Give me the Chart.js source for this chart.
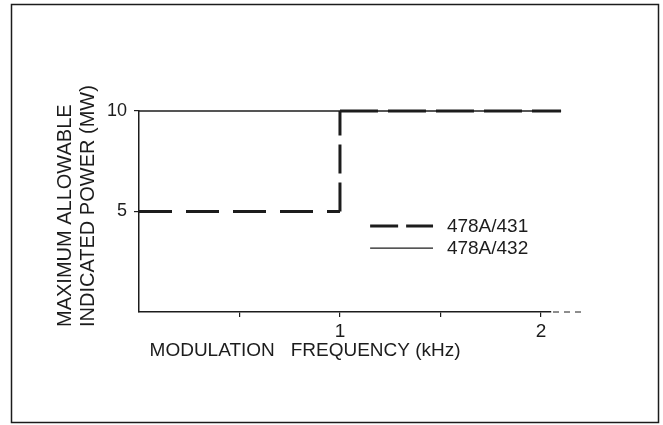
<!DOCTYPE html>
<html>
<head>
<meta charset="utf-8">
<script src="https://cdn.jsdelivr.net/npm/chart.js@4.4.1/dist/chart.umd.min.js"></script>
<style>
html,body{margin:0;padding:0;background:#fff;}
#wrap{width:663px;height:425px;}
</style>
</head>
<body>
<div id="wrap"><canvas id="c" width="663" height="425"></canvas></div>
<script>
// ---- data ----
const seriesNames = ['478A/431', '478A/432'];
const freq431 = [0, 1, 1, 2.1];
const power431 = [5, 5, 10, 10];
const freq432 = [0, 2.1];
const power432 = [10, 10];
const xTickValues = [0.5, 1, 1.5, 2];
const xTickLabels = ['', '1', '', '2'];
const yTickValues = [5, 10];
const yTickLabels = ['5', '10'];
const xTitle = 'MODULATION   FREQUENCY (kHz)';
const yTitleLines = ['MAXIMUM ALLOWABLE', 'INDICATED POWER (MW)'];

const INK = '#1c1c1c';
const FONT = '"Liberation Sans", Arial, sans-serif';

const toPoints = (xs, ys) => xs.map((v, i) => ({x: v, y: ys[i]}));

const dashBySegment = [[33, 14], [29, 9], [38, 10]];

const decor = {
  id: 'decor',
  beforeDraw(chart) {
    const ctx = chart.ctx;
    ctx.save();
    ctx.fillStyle = '#fff';
    ctx.fillRect(0, 0, chart.width, chart.height);
    ctx.strokeStyle = INK;
    ctx.lineWidth = 1.5;
    ctx.strokeRect(11.5, 4.5, 647, 418);
    ctx.restore();
  },
  afterDraw(chart) {
    const {ctx} = chart;
    const x = chart.scales.x, y = chart.scales.y;
    ctx.save();
    // dashed continuation of the x axis
    ctx.strokeStyle = INK;
    ctx.lineWidth = 1;
    ctx.setLineDash([6, 5]);
    ctx.beginPath();
    ctx.moveTo(x.right + 2, y.bottom);
    ctx.lineTo(x.getPixelForValue(2.22), y.bottom);
    ctx.stroke();
    ctx.setLineDash([]);

    // y axis title (two lines, rotated, start-aligned)
    ctx.fillStyle = INK;
    ctx.font = '20px ' + FONT;
    ctx.textAlign = 'left';
    ctx.textBaseline = 'middle';
    ctx.save();
    ctx.translate(65, y.bottom + 15);
    ctx.rotate(-Math.PI / 2);
    yTitleLines.forEach((t, i) => ctx.fillText(t, 0, i * 23));
    ctx.restore();

    // legend
    const lx0 = x.getPixelForValue(1.15), lx1 = x.getPixelForValue(1.463);
    const tx = x.getPixelForValue(1.532);
    const rows = [y.getPixelForValue(4.28), y.getPixelForValue(3.18)];
    ctx.strokeStyle = INK;
    ctx.lineCap = 'butt';
    // dashed sample
    ctx.lineWidth = 3;
    ctx.setLineDash([28, 8]);
    ctx.beginPath(); ctx.moveTo(lx0, rows[0]); ctx.lineTo(lx1, rows[0]); ctx.stroke();
    // solid sample
    ctx.lineWidth = 1.3;
    ctx.setLineDash([]);
    ctx.beginPath(); ctx.moveTo(lx0, rows[1]); ctx.lineTo(lx1, rows[1]); ctx.stroke();
    ctx.font = '19px ' + FONT;
    ctx.textAlign = 'left';
    ctx.textBaseline = 'middle';
    seriesNames.forEach((n, i) => ctx.fillText(n, tx, rows[i] + 1));
    ctx.restore();
  }
};

new Chart(document.getElementById('c'), {
  type: 'line',
  data: {
    datasets: [
      {
        label: seriesNames[0],
        data: toPoints(freq431, power431),
        borderColor: INK,
        borderWidth: 3,
        borderCapStyle: 'butt',
        pointRadius: 0,
        tension: 0,
        fill: false,
        clip: false,
        segment: {
          borderDash: ctx => dashBySegment[ctx.p0DataIndex] || [33, 14]
        }
      },
      {
        label: seriesNames[1],
        data: toPoints(freq432, power432),
        borderColor: INK,
        borderWidth: 1.3,
        pointRadius: 0,
        tension: 0,
        fill: false,
        clip: false
      }
    ]
  },
  options: {
    responsive: false,
    animation: false,
    devicePixelRatio: 1,
    layout: {padding: {left: 0, top: 111, right: 112, bottom: 53}},
    plugins: {legend: {display: false}, tooltip: {enabled: false}},
    scales: {
      x: {
        type: 'linear',
        min: 0,
        max: 2.05,
        afterBuildTicks: s => { s.ticks = xTickValues.map(v => ({value: v})); },
        afterFit: s => { s.height = 60; },
        ticks: {
          autoSkip: false,
          maxRotation: 0,
          padding: 3,
          color: INK,
          font: {family: FONT, size: 19},
          callback: v => { const i = xTickValues.indexOf(v); return i >= 0 ? xTickLabels[i] : ''; }
        },
        grid: {drawOnChartArea: false, drawTicks: true, tickLength: 5, color: INK, lineWidth: 1.2},
        border: {display: true, color: INK, width: 1.5},
        title: {
          display: true,
          text: '  ' + xTitle,
          align: 'start',
          color: INK,
          font: {family: FONT, size: 19},
          padding: {top: 0, bottom: 10}
        }
      },
      y: {
        type: 'linear',
        min: 0,
        max: 10,
        afterBuildTicks: s => { s.ticks = yTickValues.map(v => ({value: v})); },
        afterFit: s => { s.width = 139; },
        ticks: {
          autoSkip: false,
          padding: 7,
          color: INK,
          font: {family: FONT, size: 18},
          callback: v => { const i = yTickValues.indexOf(v); return i >= 0 ? yTickLabels[i] : ''; }
        },
        grid: {drawOnChartArea: false, drawTicks: true, tickLength: 5, color: INK, lineWidth: 1.2},
        border: {display: true, color: INK, width: 1.5}
      }
    }
  },
  plugins: [decor]
});
</script>
</body>
</html>
